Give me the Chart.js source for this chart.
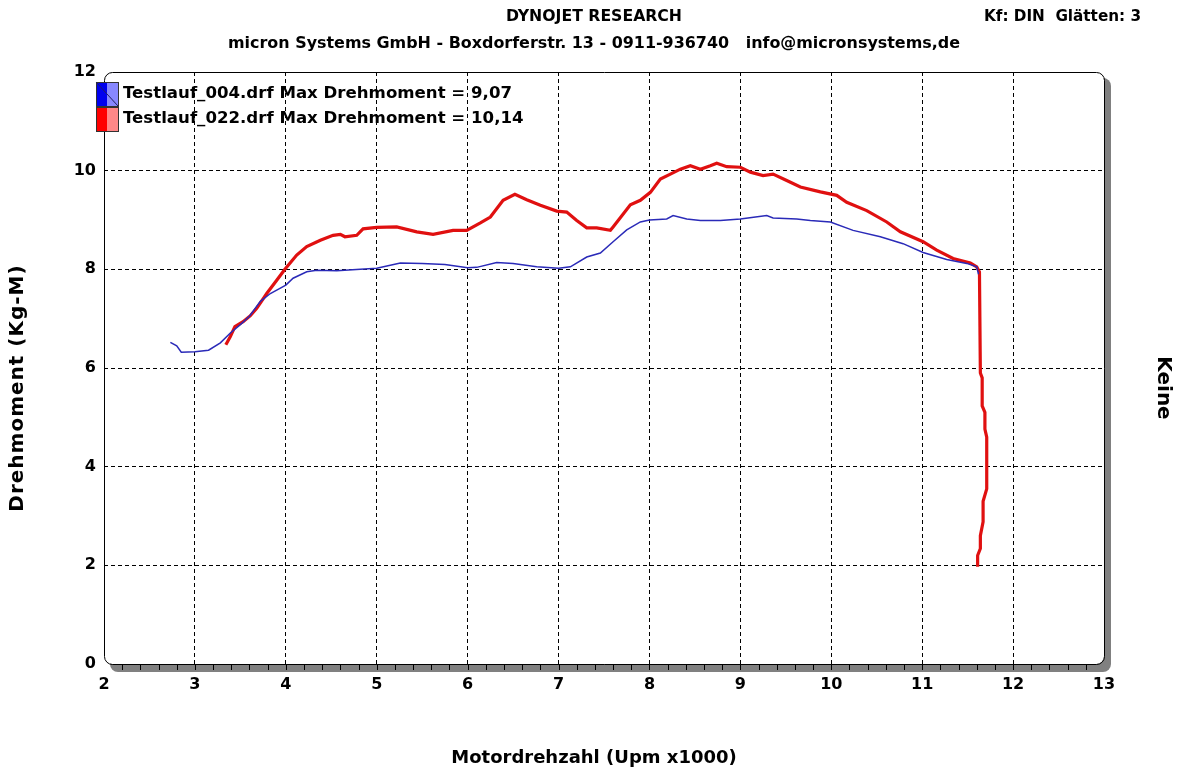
<!DOCTYPE html>
<html>
<head>
<meta charset="utf-8">
<script src="https://cdn.jsdelivr.net/npm/chart.js@4.4.0/dist/chart.umd.min.js"></script>
<style>
  html, body { margin: 0; padding: 0; background: #fff; }
  #wrap { width: 1180px; height: 770px; }
</style>
</head>
<body>
<div id="wrap"><canvas id="myChart" width="1180" height="770"></canvas></div>
<script>
// Testlauf_004 (blau)
var rpm004 = [2.73, 2.8, 2.85, 3.0, 3.15, 3.28, 3.39, 3.5, 3.6, 3.72, 3.83, 3.92, 4.0, 4.08, 4.23, 4.34, 4.56, 4.82, 5.0, 5.26, 5.5, 5.75, 6.0, 6.1, 6.32, 6.5, 6.76, 7.0, 7.13, 7.31, 7.46, 7.6, 7.75, 7.9, 8.0, 8.19, 8.26, 8.41, 8.56, 8.78, 9.0, 9.29, 9.36, 9.62, 9.77, 9.99, 10.24, 10.54, 10.79, 11.01, 11.27, 11.49, 11.6, 11.62];
var torque004 = [6.52, 6.45, 6.32, 6.33, 6.36, 6.51, 6.71, 6.88, 7.05, 7.35, 7.51, 7.6, 7.68, 7.82, 7.95, 7.98, 7.97, 8.0, 8.02, 8.13, 8.12, 8.1, 8.03, 8.04, 8.14, 8.12, 8.05, 8.02, 8.05, 8.25, 8.33, 8.56, 8.8, 8.96, 9.0, 9.02, 9.09, 9.02, 8.99, 8.99, 9.02, 9.09, 9.04, 9.02, 8.99, 8.96, 8.79, 8.66, 8.52, 8.34, 8.2, 8.12, 8.05, 7.9];

// Testlauf_022 (rot)
var rpm022 = [3.34, 3.39, 3.44, 3.53, 3.61, 3.68, 3.79, 3.9, 3.99, 4.12, 4.23, 4.38, 4.52, 4.6, 4.65, 4.78, 4.85, 5.0, 5.22, 5.44, 5.62, 5.84, 5.99, 6.14, 6.25, 6.39, 6.52, 6.65, 6.8, 6.98, 7.09, 7.2, 7.31, 7.42, 7.57, 7.6, 7.79, 7.9, 8.01, 8.12, 8.23, 8.34, 8.45, 8.56, 8.67, 8.74, 8.85, 9.0, 9.11, 9.25, 9.36, 9.51, 9.66, 9.88, 10.06, 10.17, 10.39, 10.61, 10.76, 11.01, 11.16, 11.34, 11.53, 11.6, 11.63, 11.64, 11.66, 11.66, 11.69, 11.69, 11.71, 11.71, 11.67, 11.67, 11.64, 11.64, 11.61, 11.61];
var torque022 = [6.47, 6.64, 6.84, 6.94, 7.06, 7.21, 7.51, 7.78, 8.0, 8.29, 8.46, 8.59, 8.69, 8.71, 8.66, 8.69, 8.82, 8.85, 8.86, 8.76, 8.71, 8.79, 8.79, 8.94, 9.06, 9.4, 9.52, 9.41, 9.3, 9.18, 9.16, 8.99, 8.84, 8.84, 8.79, 8.86, 9.31, 9.4, 9.56, 9.83, 9.93, 10.03, 10.1, 10.03, 10.1, 10.15, 10.08, 10.07, 9.97, 9.9, 9.93, 9.8, 9.67, 9.57, 9.5, 9.36, 9.19, 8.96, 8.76, 8.56, 8.39, 8.22, 8.13, 8.05, 7.95, 5.9, 5.8, 5.23, 5.1, 4.76, 4.6, 3.55, 3.3, 2.88, 2.6, 2.34, 2.2, 1.97];

var runLabels = ['Testlauf_004.drf Max Drehmoment = 9,07', 'Testlauf_022.drf Max Drehmoment = 10,14'];
var xTicks = [2, 3, 4, 5, 6, 7, 8, 9, 10, 11, 12, 13];
var yTicks = [0, 2, 4, 6, 8, 10, 12];

var FONT = "'DejaVu Sans', Verdana, sans-serif";
var HEAD = "bold 16px 'DejaVu Sans Condensed', 'DejaVu Sans', sans-serif";

function points(xs, ys) {
    var out = [];
    for (var i = 0; i < xs.length; i++) out.push({x: xs[i], y: ys[i]});
    return out;
}

// Text auf eine Breite bringen (Header-Schrift ist schmal)
function fitText(ctx, text, x, y, width, align) {
    var w = ctx.measureText(text).width;
    var sx = width / w;
    ctx.save();
    ctx.textAlign = 'left';
    var left = align === 'center' ? x - width / 2 : (align === 'right' ? x - width : x);
    ctx.translate(left, y);
    ctx.scale(sx, 1);
    ctx.fillText(text, 0, 0);
    ctx.restore();
}

var framePlugin = {
    id: 'frame',
    beforeDraw: function (chart) {
        var ctx = chart.ctx, a = chart.chartArea;
        ctx.save();
        ctx.fillStyle = '#fff';
        ctx.fillRect(0, 0, chart.width, chart.height);
        // Schatten
        ctx.fillStyle = '#808080';
        ctx.beginPath();
        ctx.roundRect(a.left + 6, a.top + 6, a.right - a.left + 1, a.bottom - a.top + 2, 8);
        ctx.fill();
        ctx.fillStyle = '#fff';
        ctx.beginPath();
        ctx.roundRect(a.left, a.top, a.right - a.left, a.bottom - a.top, 8);
        ctx.fill();

        // Kopfzeilen
        ctx.fillStyle = '#000';
        ctx.textBaseline = 'middle';
        ctx.font = HEAD;
        fitText(ctx, 'DYNOJET RESEARCH', 594, 17, 176, 'center');
        fitText(ctx, 'micron Systems GmbH - Boxdorferstr. 13 - 0911-936740   info@micronsystems,de', 594, 44, 732, 'center');
        fitText(ctx, 'Kf: DIN  Glätten: 3', 1141, 17, 157, 'right');

        // Achsentitel
        ctx.textAlign = 'center';
        ctx.font = 'bold 18px ' + FONT;
        ctx.fillText('Motordrehzahl (Upm x1000)', 594, 758);
        ctx.save();
        ctx.translate(18, 388);
        ctx.rotate(-Math.PI / 2);
        ctx.font = 'bold 20px ' + FONT;
        ctx.letterSpacing = '1px';
        ctx.fillText('Drehmoment (Kg-M)', 0, 0);
        ctx.restore();
        ctx.save();
        ctx.translate(1163, 388);
        ctx.rotate(Math.PI / 2);
        ctx.font = 'bold 20px ' + FONT;
        ctx.fillText('Keine', 0, 0);
        ctx.restore();
        ctx.restore();
    },
    afterDraw: function (chart) {
        var ctx = chart.ctx, a = chart.chartArea, xs = chart.scales.x;
        ctx.save();
        // kleine Striche an der x-Achse
        ctx.strokeStyle = '#000';
        ctx.lineWidth = 1;
        for (var v = 2.2; v < 12.9; v += 0.2) {
            var px = Math.round(xs.getPixelForValue(v)) + 0.5;
            ctx.beginPath();
            ctx.moveTo(px, a.bottom);
            ctx.lineTo(px, a.bottom + 6);
            ctx.stroke();
        }
        ctx.beginPath();
        ctx.roundRect(a.left + 0.5, a.top + 0.5, a.right - a.left, a.bottom - a.top, 8);
        ctx.stroke();

        // Legende
        var ds = chart.data.datasets;
        for (var i = 0; i < ds.length; i++) {
            var bx = 96, by = 82 + i * 25, bw = 22, bh = 24;
            ctx.fillStyle = ds[i].boxDark;
            ctx.fillRect(bx, by, bw / 2, bh);
            ctx.fillStyle = ds[i].boxLight;
            ctx.fillRect(bx + bw / 2, by, bw / 2, bh);
            ctx.strokeStyle = '#333';
            ctx.strokeRect(bx + 0.5, by + 0.5, bw, bh);
            if (i === 0) {
                ctx.beginPath();
                ctx.moveTo(bx, by);
                ctx.lineTo(bx + bw, by + bh);
                ctx.strokeStyle = '#202060';
                ctx.stroke();
            }
            ctx.fillStyle = '#000';
            ctx.font = 'bold 16.6px ' + FONT;
            ctx.textAlign = 'left';
            ctx.textBaseline = 'middle';
            ctx.fillText(ds[i].label, 123, by + 12);
        }
        ctx.restore();
    }
};

var ctx = document.getElementById('myChart').getContext('2d');
var myChart = new Chart(ctx, {
    type: 'scatter',
    data: {
        datasets: [{
            label: runLabels[0],
            data: points(rpm004, torque004),
            showLine: true,
            borderColor: '#2a2ab8',
            borderWidth: 1.5,
            pointRadius: 0,
            tension: 0,
            boxDark: '#0000ee',
            boxLight: '#8888ff'
        }, {
            label: runLabels[1],
            data: points(rpm022, torque022),
            showLine: true,
            borderColor: '#e01010',
            borderWidth: 3.2,
            pointRadius: 0,
            tension: 0,
            boxDark: '#ff0000',
            boxLight: '#ff8888'
        }]
    },
    options: {
        responsive: false,
        animation: false,
        layout: { padding: { top: 72, left: 0, right: 0, bottom: 0 } },
        plugins: {
            legend: { display: false },
            tooltip: { enabled: false }
        },
        scales: {
            x: {
                type: 'linear',
                min: 2,
                max: 13,
                afterFit: function (s) { s.height = 106; },
                afterBuildTicks: function (s) { s.ticks = xTicks.map(function (v) { return {value: v}; }); },
                border: { display: false, dash: [4, 3] },
                grid: {
                    drawTicks: false,
                    lineWidth: 1,
                    color: function (c) { return (c.tick && (c.tick.value === 2 || c.tick.value === 13)) ? 'rgba(0,0,0,0)' : '#000'; }
                },
                ticks: {
                    color: '#000',
                    padding: 11,
                    maxRotation: 0,
                    font: { family: FONT, size: 16, weight: 'bold' }
                }
            },
            y: {
                type: 'linear',
                position: 'left',
                min: 0,
                max: 12,
                afterFit: function (s) { s.width = 104; },
                afterBuildTicks: function (s) { s.ticks = yTicks.map(function (v) { return {value: v}; }); },
                border: { display: false, dash: [4, 3] },
                grid: {
                    drawTicks: false,
                    lineWidth: 1,
                    color: function (c) { return (c.tick && (c.tick.value === 0 || c.tick.value === 12)) ? 'rgba(0,0,0,0)' : '#000'; }
                },
                ticks: {
                    color: '#000',
                    padding: 8,
                    font: { family: FONT, size: 16, weight: 'bold' }
                }
            },
            y2: {
                type: 'linear',
                position: 'right',
                min: 0,
                max: 12,
                afterFit: function (s) { s.width = 76; },
                border: { display: false },
                grid: { display: false, drawTicks: false },
                ticks: { display: false }
            }
        }
    },
    plugins: [framePlugin]
});
</script>
</body>
</html>
